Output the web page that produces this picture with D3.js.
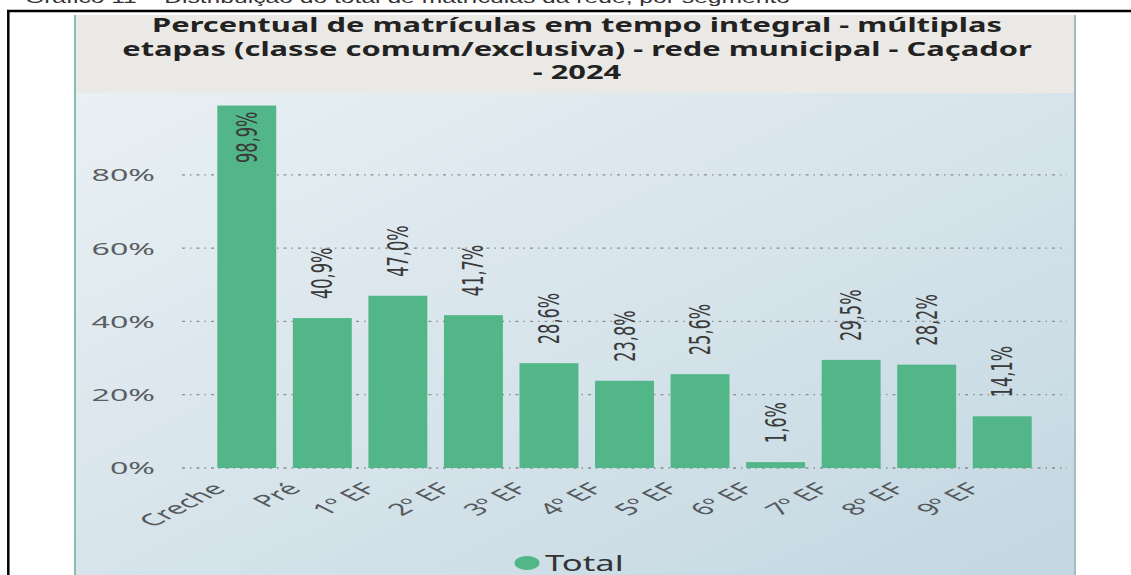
<!DOCTYPE html>
<html>
<head>
<meta charset="utf-8">
<script src="https://cdn.jsdelivr.net/npm/d3@7"></script>
<style>
  body { margin: 0; background: #fff; }
  svg { display: block; }
</style>
</head>
<body>
<div id="chart"></div>
<script>
// Data
const categories = ['Creche', 'Pré', '1º EF', '2º EF', '3º EF', '4º EF', '5º EF', '6º EF', '7º EF', '8º EF', '9º EF'];
const values = [98.9, 40.9, 47.0, 41.7, 28.6, 23.8, 25.6, 1.6, 29.5, 28.2, 14.1];
const yTicks = [0, 20, 40, 60, 80];
const titleLines = [
    'Percentual de matrículas em tempo integral - múltiplas',
    'etapas (classe comum/exclusiva) - rede municipal - Caçador',
    '- 2024'
];
const seriesName = 'Total';
const captionText = 'Gráfico 11 – Distribuição do total de matrículas da rede, por segmento';

let width = 1131, height = 575;
let barColor = '#52b688';

let svg = d3.select('#chart')
            .append('svg')
            .attr('width', width)
            .attr('height', height)
            .style('background', '#fff');

// background gradient for the plot
let defs = svg.append('defs');
let grad = defs.append('linearGradient')
               .attr('id', 'plotBg')
               .attr('x1', '0').attr('y1', '0')
               .attr('x2', '1').attr('y2', '1');
grad.append('stop').attr('offset', '0%').attr('stop-color', '#e9f0f4');
grad.append('stop').attr('offset', '55%').attr('stop-color', '#d5e3ea');
grad.append('stop').attr('offset', '100%').attr('stop-color', '#c2d7e1');

// document caption, cut off by the top of the picture
svg.append('text')
   .attr('x', 25)
   .attr('y', 3)
   .attr('textLength', 765)
   .attr('lengthAdjust', 'spacingAndGlyphs')
   .style('font-family', 'Liberation Sans, Arial, sans-serif')
   .style('font-size', '17px')
   .style('fill', '#333')
   .text(captionText);

// page frame (top and left)
svg.append('line')
   .attr('x1', 7).attr('x2', width)
   .attr('y1', 11).attr('y2', 11)
   .attr('stroke', '#000').attr('stroke-width', 2.5);
svg.append('line')
   .attr('x1', 8.3).attr('x2', 8.3)
   .attr('y1', 10).attr('y2', height)
   .attr('stroke', '#000').attr('stroke-width', 2.5);

// the chart panel
let panel = { left: 74, right: 1076, top: 15, titleBottom: 93 };

svg.append('rect')
   .attr('x', panel.left).attr('y', panel.titleBottom)
   .attr('width', panel.right - panel.left)
   .attr('height', height - panel.titleBottom)
   .attr('fill', 'url(#plotBg)');

svg.append('rect')
   .attr('x', panel.left).attr('y', panel.top)
   .attr('width', panel.right - panel.left)
   .attr('height', panel.titleBottom - panel.top)
   .attr('fill', '#ebe9e6');

svg.append('line')
   .attr('x1', panel.left + 1).attr('x2', panel.left + 1)
   .attr('y1', panel.top).attr('y2', height)
   .attr('stroke', '#86bfae').attr('stroke-width', 2);
svg.append('line')
   .attr('x1', panel.right - 1).attr('x2', panel.right - 1)
   .attr('y1', panel.top).attr('y2', height)
   .attr('stroke', '#a7b9c1').attr('stroke-width', 2);

// title, three lines, glyphs stretched sideways like the picture
let titleBase = [32, 55.5, 79];
let title = svg.selectAll('.title')
   .data(titleLines)
   .enter()
   .append('text')
   .attr('class', 'title')
   .style('text-anchor', 'middle')
   .style('font-family', 'Noto Sans, sans-serif')
   .style('font-weight', 'bold')
   .style('font-size', '19px')
   .style('fill', '#222')
   .text(d => d);
// one stretch for all lines, so that the first line is as wide as in the picture
let titleStretch = 850 / title.node().getComputedTextLength();
title.attr('transform', (d, i) => `translate(577, ${titleBase[i]}) scale(${titleStretch},1)`);

// scales
let xscale = d3.scaleBand()
               .domain(categories)
               .range([209, 1040])
               .paddingInner(0.22)
               .paddingOuter(0.11);

let yscale = d3.scaleLinear()
               .domain([0, 100])
               .range([468, 101.5]);

// gridlines
svg.selectAll('.grid')
   .data(yTicks)
   .enter()
   .append('line')
   .attr('class', 'grid')
   .attr('x1', 182).attr('x2', 1067)
   .attr('y1', d => yscale(d)).attr('y2', d => yscale(d))
   .attr('stroke', '#8a8f93')
   .attr('stroke-width', 1.3)
   .attr('stroke-dasharray', '3,5,1.5,5');

// y axis
let yaxis = svg.append('g')
               .attr('transform', 'translate(155, 0)')
               .call(d3.axisLeft(yscale).tickValues(yTicks).tickFormat(d => d + '%').tickSize(0));
yaxis.select('.domain').remove();
yaxis.selectAll('text')
     .attr('x', 0)
     .attr('dy', '0.36em')
     .attr('transform', 'scale(1.95,1)')
     .style('font-family', 'Noto Sans, sans-serif')
     .style('font-size', '16.5px')
     .style('fill', '#5a5e62');

// bars
svg.selectAll('.bar')
   .data(values)
   .enter()
   .append('rect')
   .attr('class', 'bar')
   .attr('x', (d, i) => xscale(categories[i]))
   .attr('y', d => yscale(d))
   .attr('width', xscale.bandwidth())
   .attr('height', d => yscale(0) - yscale(d))
   .attr('fill', barColor);

// value labels, rotated
let fmt = d => d3.format('.1f')(d).replace('.', ',') + '%';
svg.selectAll('.vlabel')
   .data(values)
   .enter()
   .append('text')
   .attr('class', 'vlabel')
   .attr('transform', (d, i) => {
       let cx = xscale(categories[i]) + xscale.bandwidth() / 2 + 10;
       let inside = d > 90;
       let y = inside ? yscale(d) + 6 : yscale(d) - 19;
       return `translate(${cx}, ${y}) scale(1.55,1) rotate(-90)`;
   })
   .style('text-anchor', d => d > 90 ? 'end' : 'start')
   .style('font-family', 'Liberation Sans Narrow, DejaVu Sans Condensed, sans-serif')
   .style('font-size', '18px')
   .style('fill', '#3a3a3a')
   .text(fmt);

// x axis labels
let xaxis = svg.append('g')
               .attr('transform', 'translate(0, 468)')
               .call(d3.axisBottom(xscale).tickSize(0));
xaxis.select('.domain').remove();
xaxis.selectAll('text')
     .attr('x', 0).attr('y', 0).attr('dy', 0)
     .attr('transform', 'translate(-20, 22) scale(1.95,1) rotate(-45)')
     .style('text-anchor', 'end')
     .style('font-family', 'Noto Sans, sans-serif')
     .style('font-size', '16.5px')
     .style('fill', '#55595d');

// legend
svg.append('ellipse')
   .attr('cx', 527).attr('cy', 563)
   .attr('rx', 12.5).attr('ry', 7)
   .attr('fill', barColor);
svg.append('text')
   .attr('transform', 'translate(545, 570.5) scale(1.65,1)')
   .style('font-family', 'Noto Sans, sans-serif')
   .style('font-size', '21px')
   .style('fill', '#333')
   .text(seriesName);
</script>
</body>
</html>
